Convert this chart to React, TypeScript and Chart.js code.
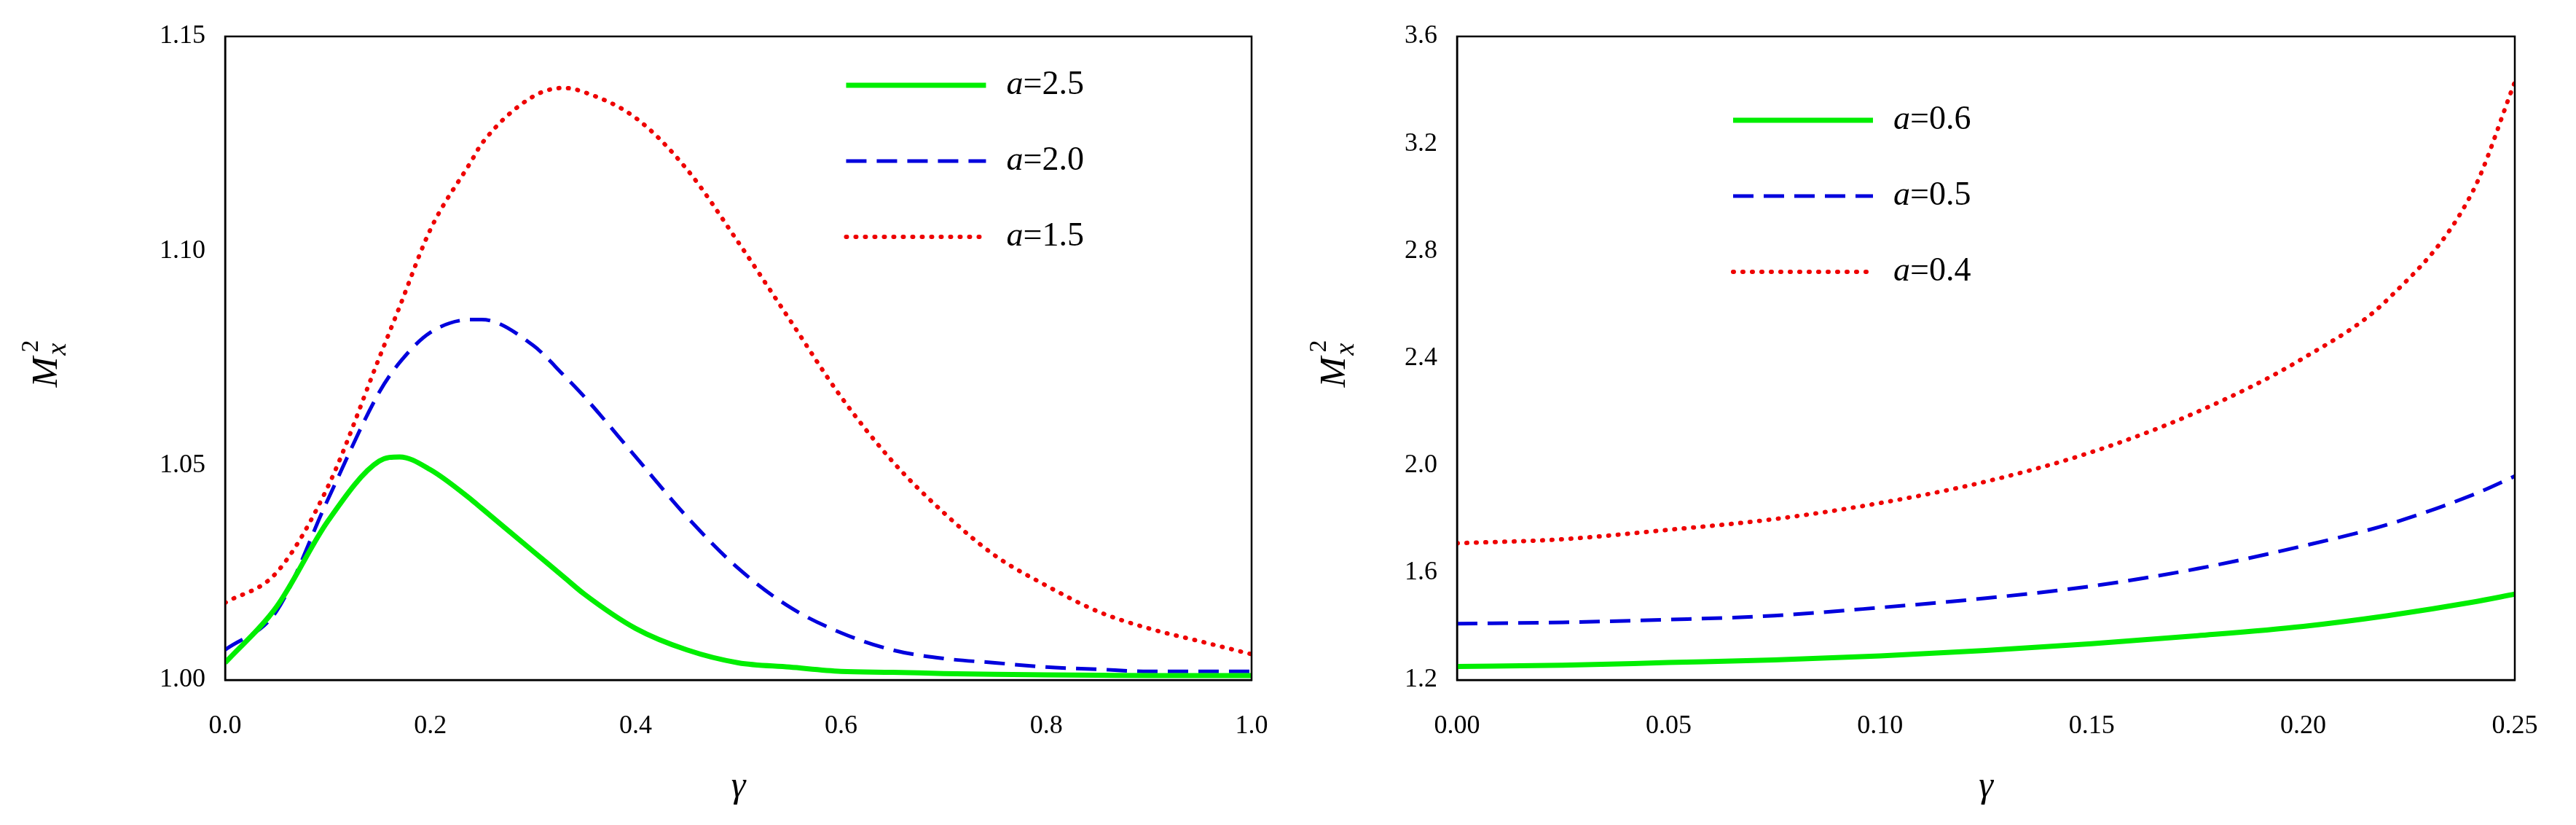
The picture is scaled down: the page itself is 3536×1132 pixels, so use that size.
import React, { useEffect, useRef } from "react";
import { Chart, registerables } from "chart.js";
Chart.register(...registerables);

const leftX = [0, 0.05, 0.1, 0.15, 0.17, 0.2, 0.24, 0.25, 0.3, 0.33, 0.35, 0.4, 0.45, 0.5, 0.55, 0.6, 0.65, 0.7, 0.75, 0.8, 0.85, 0.9, 0.95, 1.0];
const leftGreen = [1.004, 1.017, 1.037, 1.051, 1.052, 1.049, 1.042, 1.040, 1.030, 1.024, 1.020, 1.012, 1.007, 1.004, 1.003, 1.002, 1.0018, 1.0015, 1.0013, 1.0012, 1.0011, 1.001, 1.001, 1.001];
const leftBlue = [1.007, 1.016, 1.042, 1.067, 1.074, 1.081, 1.084, 1.084, 1.078, 1.071, 1.066, 1.052, 1.038, 1.026, 1.017, 1.011, 1.007, 1.005, 1.004, 1.003, 1.0025, 1.002, 1.002, 1.002];
const leftRed = [1.018, 1.025, 1.045, 1.075, 1.087, 1.105, 1.121, 1.125, 1.136, 1.138, 1.137, 1.131, 1.119, 1.102, 1.084, 1.066, 1.051, 1.039, 1.029, 1.022, 1.016, 1.012, 1.009, 1.006];

const rightX = [0, 0.025, 0.05, 0.075, 0.1, 0.125, 0.15, 0.175, 0.2, 0.22, 0.24, 0.25];
const rightGreen = [1.25, 1.255, 1.265, 1.275, 1.29, 1.31, 1.335, 1.365, 1.40, 1.44, 1.49, 1.52];
const rightBlue = [1.41, 1.415, 1.425, 1.44, 1.47, 1.505, 1.55, 1.615, 1.70, 1.78, 1.89, 1.96];
const rightRed = [1.71, 1.725, 1.76, 1.80, 1.86, 1.94, 2.05, 2.20, 2.40, 2.62, 3.02, 3.43];

const FONT = "'Liberation Serif', 'Times New Roman', serif";

function makePlugin(labels: string[], legFrac: number, legTop: number) {
  return {
    id: "custom",
    afterDraw(chart: any) {
      const { ctx, chartArea: a } = chart;
      ctx.save();
      ctx.strokeStyle = "#000";
      ctx.lineWidth = 2.5;
      ctx.strokeRect(a.left, a.top, a.right - a.left, a.bottom - a.top);
      ctx.translate(a.left - 245 + (a.left < 250 ? 77 : 0), (a.top + a.bottom) / 2);
      ctx.rotate(-Math.PI / 2);
      ctx.fillStyle = "#000";
      ctx.textBaseline = "alphabetic";
      ctx.font = `italic 50px ${FONT}`;
      ctx.fillText("M", -40, 14);
      ctx.font = `italic 38px ${FONT}`;
      ctx.fillText("x", 4, 26);
      ctx.font = `34px ${FONT}`;
      ctx.fillText("2", 8, -12);
      ctx.restore();
      ctx.save();
      const ds = chart.data.datasets;
      const lx = a.left + legFrac * (a.right - a.left);
      ds.forEach((d: any, i: number) => {
        const y = a.top + legTop + i * 104;
        ctx.strokeStyle = d.borderColor;
        ctx.lineWidth = d.borderWidth;
        ctx.setLineDash(d.borderDash || []);
        ctx.lineCap = d.borderCapStyle || "butt";
        ctx.beginPath();
        ctx.moveTo(lx, y);
        ctx.lineTo(lx + 192, y);
        ctx.stroke();
        ctx.setLineDash([]);
        ctx.fillStyle = "#000";
        ctx.textBaseline = "middle";
        ctx.font = `italic 46px ${FONT}`;
        ctx.fillText("a", lx + 220, y);
        const w = ctx.measureText("a").width;
        ctx.font = `46px ${FONT}`;
        ctx.fillText("=" + labels[i], lx + 220 + w, y);
      });
      ctx.restore();
    },
  };
}

function Plot({ xs, series, labels, xmin, xmax, xstep, xdec, ymin, ymax, ystep, ydec, yw, padR, legFrac, legTop, width }: any) {
  const ref = useRef<HTMLCanvasElement>(null);
  useEffect(() => {
    const styles = [
      { borderColor: "#00ee00", borderWidth: 7, borderDash: [] },
      { borderColor: "#0000dd", borderWidth: 5, borderDash: [28, 14] },
      { borderColor: "#ee0000", borderWidth: 6, borderDash: [1, 12], borderCapStyle: "round" },
    ];
    const chart = new Chart(ref.current!, {
      type: "line",
      data: {
        datasets: series.map((s: number[], i: number) => ({
          data: xs.map((x: number, j: number) => ({ x, y: s[j] })),
          pointRadius: 0,
          cubicInterpolationMode: "monotone",
          fill: false,
          ...styles[i],
        })),
      },
      options: {
        animation: false,
        responsive: false,
        layout: { padding: { left: 0, right: padR, top: 42, bottom: 10 } },
        plugins: { legend: { display: false }, tooltip: { enabled: false } },
        scales: {
          x: {
            type: "linear", min: xmin, max: xmax,
            afterFit: (s: any) => { s.height = 181; },
            grid: { display: false, drawTicks: true, tickLength: 12, tickColor: "#000" } as any,
            border: { color: "#000", width: 2.5 },
            ticks: { stepSize: xstep, padding: 30, color: "#000", font: { family: FONT, size: 36 }, callback: (v: any) => Number(v).toFixed(xdec), maxRotation: 0 },
            title: { display: true, text: "γ", color: "#000", font: { family: FONT, size: 50, style: "italic" } },
          },
          y: {
            min: ymin, max: ymax,
            afterFit: (s: any) => { s.width = yw; },
            grid: { display: false, drawTicks: true, tickLength: 12, tickColor: "#000" } as any,
            border: { color: "#000", width: 2.5 },
            ticks: { stepSize: ystep, padding: 15, color: "#000", font: { family: FONT, size: 36 }, callback: (v: any) => Number(v).toFixed(ydec) },
          },
        },
      },
      plugins: [makePlugin(labels, legFrac, legTop)],
    } as any);
    return () => chart.destroy();
  }, []);
  return <canvas ref={ref} width={width} height={1116} style={{ display: "block" }} />;
}

export default function App() {
  return (
    <div style={{ display: "flex", width: 3528, height: 1116, background: "#fff" }}>
      <Plot xs={leftX} series={[leftGreen, leftBlue, leftRed]} labels={["2.5", "2.0", "1.5"]} width={1768} yw={301} padR={58} legFrac={0.605} legTop={67}
        xmin={0} xmax={1} xstep={0.2} xdec={1} ymin={1} ymax={1.15} ystep={0.05} ydec={2} />
      <Plot xs={rightX} series={[rightGreen, rightBlue, rightRed]} labels={["0.6", "0.5", "0.4"]} width={1760} yw={224} padR={84} legFrac={0.261} legTop={115}
        xmin={0} xmax={0.25} xstep={0.05} xdec={2} ymin={1.2} ymax={3.6} ystep={0.4} ydec={1} />
    </div>
  );
}
